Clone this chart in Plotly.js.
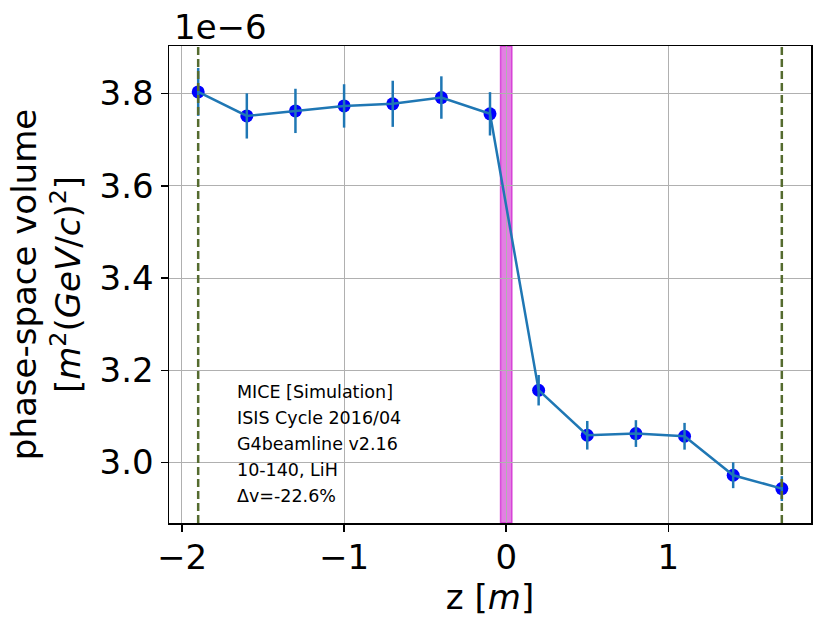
<!DOCTYPE html>
<html>
<head>
<meta charset="utf-8">
<script src="https://cdn.plot.ly/plotly-3.0.1.min.js"></script>
<style>
  html, body { margin: 0; padding: 0; background: #fff; }
  #chart { width: 830px; height: 625px; }
</style>
</head>
<body>
<div id="chart"></div>
<script>
// z positions of the detector stations [m]
const zPositions = [-1.9, -1.6, -1.3, -1.0, -0.7, -0.4, -0.1, 0.2, 0.5, 0.8, 1.1, 1.4, 1.7];
// phase-space volume, in units of 1e-6 m^2 (GeV/c)^2
const volume = [3.8035, 3.7514, 3.7623, 3.7731, 3.7777, 3.7913, 3.7560,
                3.1568, 3.0592, 3.0629, 3.0570, 2.9725, 2.9436];
const volumeErr = [0.052, 0.049, 0.048, 0.047, 0.050, 0.046, 0.047,
                   0.033, 0.031, 0.029, 0.029, 0.028, 0.027];
const referencePlanes = [-1.9, 1.7];
const absorberHalfWidth = 0.035;
const infoLines = ['MICE [Simulation]', 'ISIS Cycle 2016/04', 'G4beamline v2.16', '10-140, LiH', '\u0394v=-22.6%'];

const font = 'DejaVu Sans, sans-serif';

let shapes = [];
shapes.push({
  type: 'rect', xref: 'x', yref: 'paper',
  x0: -absorberHalfWidth, x1: absorberHalfWidth, y0: 0, y1: 1,
  fillcolor: 'rgba(200,0,200,0.5)',
  line: {color: 'rgba(200,0,200,0.6)', width: 1.5},
  layer: 'below'
});
for (let i = 0; i < referencePlanes.length; i++) {
  shapes.push({
    type: 'line', xref: 'x', yref: 'paper',
    x0: referencePlanes[i], x1: referencePlanes[i], y0: 0, y1: 1,
    line: {color: '#556b2f', width: 2.5, dash: '8px,4px'},
    layer: 'above'
  });
}

let annotations = [];
// scale factor shown at the top-left, like matplotlib's offset text
annotations.push({
  xref: 'paper', yref: 'paper', x: 0.004, y: 1, xanchor: 'left', yanchor: 'bottom',
  yshift: -3, text: '1e\u22126', showarrow: false,
  font: {family: font, size: 34, color: '#000'}
});
for (let i = 0; i < infoLines.length; i++) {
  annotations.push({
    xref: 'paper', yref: 'paper', x: 0.103, y: 0.274 - i * 0.0545,
    xanchor: 'left', yanchor: 'middle', text: infoLines[i], showarrow: false,
    font: {family: font, size: 17.5, color: '#000'}
  });
}

let markers = {
  x: zPositions, y: volume, type: 'scatter', mode: 'markers',
  marker: {color: '#0000ff', size: 13},
  hoverinfo: 'skip'
};
let line = {
  x: zPositions, y: volume, type: 'scatter', mode: 'lines',
  line: {color: '#1f77b4', width: 2.5},
  error_y: {type: 'data', array: volumeErr, visible: true, color: '#1f77b4', thickness: 2.5, width: 0}
};

let layout = {
  width: 830, height: 625,
  margin: {l: 169, r: 19, t: 46, b: 102},
  paper_bgcolor: '#fff', plot_bgcolor: '#fff',
  showlegend: false,
  font: {family: font, size: 34, color: '#000'},
  xaxis: {
    range: [-2.08, 1.88], tickvals: [-2, -1, 0, 1],
    showgrid: true, gridcolor: '#b0b0b0', gridwidth: 1,
    zeroline: false, showline: true, mirror: true, linecolor: '#000', linewidth: 1.5,
    ticks: 'outside', ticklen: 7, tickwidth: 1.5, tickcolor: '#000',
    tickfont: {family: font, size: 34}, ticklabelstandoff: -3,
    title: {text: 'z [<i>m</i>]', font: {family: font, size: 34}, standoff: 0}
  },
  yaxis: {
    range: [2.869, 3.903], tickvals: [3.0, 3.2, 3.4, 3.6, 3.8], tickformat: '.1f',
    showgrid: true, gridcolor: '#b0b0b0', gridwidth: 1,
    zeroline: false, showline: true, mirror: true, linecolor: '#000', linewidth: 1.5,
    ticks: 'outside', ticklen: 7, tickwidth: 1.5, tickcolor: '#000',
    tickfont: {family: font, size: 34},
    title: {text: 'phase-space volume<br>[<i>m</i><sup>2</sup>(<i>GeV</i>/<i>c</i>)<sup>2</sup>]',
            font: {family: font, size: 34}, standoff: 8}
  },
  shapes: shapes,
  annotations: annotations
};

Plotly.newPlot('chart', [markers, line], layout, {displayModeBar: false, staticPlot: true});
</script>
</body>
</html>
